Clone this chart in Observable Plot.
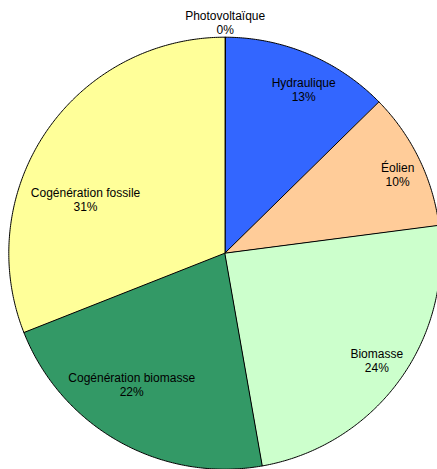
<!DOCTYPE html>
<html>
<head>
<meta charset="utf-8">
<script src="https://cdn.jsdelivr.net/npm/d3@7"></script>
<script src="https://cdn.jsdelivr.net/npm/@observablehq/plot@0.6"></script>
<style>
  html, body { margin: 0; padding: 0; background: #ffffff; overflow: hidden; }
  #chart svg { display: block; }
</style>
</head>
<body>
<div id="chart"></div>
<script>
// ---- data ----
const names = ["Photovoltaïque", "Hydraulique", "Éolien", "Biomasse", "Cogénération biomasse", "Cogénération fossile"];
const values = [0.05, 12.6, 10.3, 24.3, 21.8, 31.0];
const colors = ["#993366", "#3366FF", "#FFCC99", "#CCFFCC", "#339966", "#FFFF99"];

// ---- layout ----
const W = 437, H = 469;
const cx = 224.3, cy = 252.7, R = 216;
const fontFamily = "'Liberation Sans', Arial, sans-serif";
const fontSize = 12, lineGap = 14;
// label placement: [angle offset from slice mid-angle (deg), distance from centre (px)]
const labelPolar = [[0, 231], [2.9, 181.6], [1.4, 190], [-1.1, 186], [6.1, 161], [-13.1, 149.3]];

const total = d3.sum(values);
const arcs = d3.pie().sort(null).value(d => d)(values);

// polygon points for each slice (unit circle coordinates, y up)
const pts = [];
arcs.forEach((a, i) => {
  const n = Math.max(2, Math.ceil((a.endAngle - a.startAngle) / (Math.PI / 360)));
  pts.push({name: names[i], x: 0, y: 0});
  for (let k = 0; k <= n; k++) {
    const t = a.startAngle + (a.endAngle - a.startAngle) * k / n;
    pts.push({name: names[i], x: Math.sin(t), y: Math.cos(t)});
  }
});

const labels = arcs.map((a, i) => {
  const pct = Math.round(values[i] / total * 100) + "%";
  const mid = (a.startAngle + a.endAngle) / 2 + labelPolar[i][0] * Math.PI / 180;
  const r = labelPolar[i][1] / R;
  return {text: names[i] + "\n" + pct, x: Math.sin(mid) * r, y: Math.cos(mid) * r};
});

const chart = Plot.plot({
  width: W,
  height: H,
  margin: 0,
  x: {domain: [-cx / R, (W - cx) / R], axis: null},
  y: {domain: [-(H - cy) / R, cy / R], axis: null},
  color: {domain: names, range: colors},
  style: {background: "#ffffff", fontFamily},
  marks: [
    Plot.line(pts, {x: "x", y: "y", z: "name", fill: "name", stroke: "#000000", strokeWidth: 1, curve: "linear-closed", strokeLinejoin: "miter"}),
    Plot.text(labels, {x: "x", y: "y", text: "text", fontSize, fill: "#000000", lineHeight: lineGap / fontSize, textAnchor: "middle"})
  ]
});
document.getElementById("chart").appendChild(chart);
</script>
</body>
</html>
